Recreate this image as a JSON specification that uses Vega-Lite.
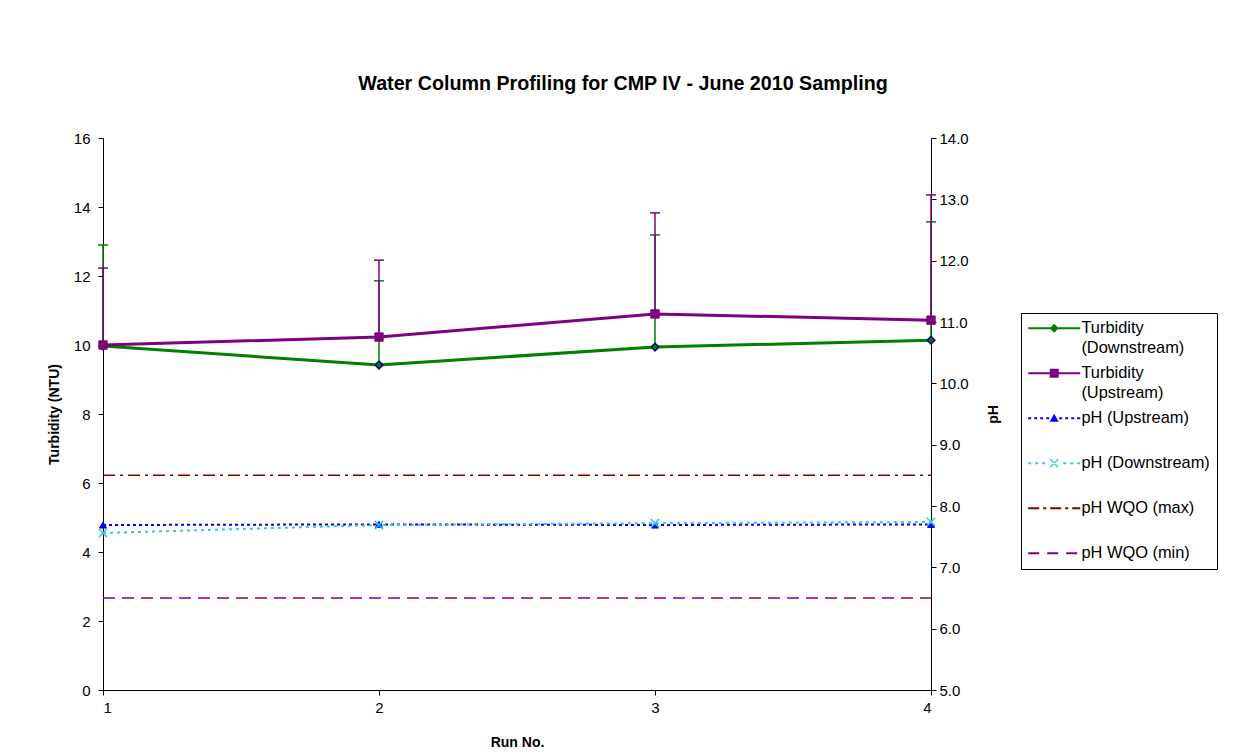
{
  "$schema": "https://vega.github.io/schema/vega-lite/v6.json",
  "autosize": {"type": "none"},
  "padding": {"left": 103, "top": 138, "right": 312, "bottom": 64},
  "width": 828,
  "height": 552,
  "background": "white",
  "title": {
    "text": "Water Column Profiling for CMP IV - June 2010 Sampling",
    "font": "Liberation Sans",
    "fontSize": 19.7,
    "fontWeight": "bold",
    "color": "black",
    "anchor": "middle",
    "dx": 106,
    "offset": 37
  },
  "datasets": {
    "turb": [
      {"run": 1, "series": "Turbidity (Downstream)", "turb": 9.97, "hi": 12.9},
      {"run": 2, "series": "Turbidity (Downstream)", "turb": 9.42, "hi": 11.86},
      {"run": 3, "series": "Turbidity (Downstream)", "turb": 9.94, "hi": 13.19},
      {"run": 4, "series": "Turbidity (Downstream)", "turb": 10.14, "hi": 13.57},
      {"run": 1, "series": "Turbidity (Upstream)", "turb": 10.0, "hi": 12.23},
      {"run": 2, "series": "Turbidity (Upstream)", "turb": 10.23, "hi": 12.46},
      {"run": 3, "series": "Turbidity (Upstream)", "turb": 10.9, "hi": 13.83},
      {"run": 4, "series": "Turbidity (Upstream)", "turb": 10.72, "hi": 14.35}
    ],
    "ph": [
      {"run": 1, "series": "pH (Upstream)", "ph": 7.69},
      {"run": 2, "series": "pH (Upstream)", "ph": 7.7},
      {"run": 3, "series": "pH (Upstream)", "ph": 7.69},
      {"run": 4, "series": "pH (Upstream)", "ph": 7.7},
      {"run": 1, "series": "pH (Downstream)", "ph": 7.56},
      {"run": 2, "series": "pH (Downstream)", "ph": 7.69},
      {"run": 3, "series": "pH (Downstream)", "ph": 7.72},
      {"run": 4, "series": "pH (Downstream)", "ph": 7.74},
      {"run": 1, "series": "pH WQO (max)", "ph": 8.5},
      {"run": 4, "series": "pH WQO (max)", "ph": 8.5},
      {"run": 1, "series": "pH WQO (min)", "ph": 6.5},
      {"run": 4, "series": "pH WQO (min)", "ph": 6.5}
    ]
  },
  "layer": [
    {
      "data": {"name": "turb"},
      "encoding": {
        "x": {
          "field": "run", "type": "quantitative",
          "scale": {"domain": [1, 4], "nice": false, "zero": false},
          "axis": {"values": [1, 2, 3, 4], "format": "d", "title": "Run No.", "labelPadding": 5, "titlePadding": 20}
        },
        "y": {
          "field": "turb", "type": "quantitative",
          "scale": {"domain": [0, 16], "nice": false, "zero": true},
          "axis": {"values": [0, 2, 4, 6, 8, 10, 12, 14, 16], "title": "Turbidity (NTU)", "labelPadding": 8, "titlePadding": 12}
        }
      },
      "layer": [
        {
          "transform": [{"filter": "datum.series == 'Turbidity (Downstream)'"}],
          "mark": {"type": "rule", "color": "#008000", "strokeWidth": 1.5},
          "encoding": {"y2": {"field": "hi"}}
        },
        {
          "transform": [{"filter": "datum.series == 'Turbidity (Downstream)'"}],
          "mark": {"type": "tick", "orient": "horizontal", "color": "#008000", "size": 10, "thickness": 1.5, "opacity": 1},
          "encoding": {"y": {"field": "hi", "type": "quantitative", "title": "Turbidity (NTU)"}}
        },
        {
          "transform": [{"filter": "datum.series == 'Turbidity (Upstream)'"}],
          "mark": {"type": "rule", "color": "#800080", "strokeWidth": 1.5},
          "encoding": {"y2": {"field": "hi"}}
        },
        {
          "transform": [{"filter": "datum.series == 'Turbidity (Upstream)'"}],
          "mark": {"type": "tick", "orient": "horizontal", "color": "#800080", "size": 10, "thickness": 1.5, "opacity": 1},
          "encoding": {"y": {"field": "hi", "type": "quantitative", "title": "Turbidity (NTU)"}}
        },
        {
          "transform": [{"filter": "datum.series == 'Turbidity (Downstream)'"}],
          "mark": {"type": "line", "color": "#008000", "strokeWidth": 3}
        },
        {
          "transform": [{"filter": "datum.series == 'Turbidity (Upstream)'"}],
          "mark": {"type": "line", "color": "#800080", "strokeWidth": 3}
        },
        {
          "transform": [{"filter": "datum.series == 'Turbidity (Downstream)'"}],
          "mark": {"type": "point", "shape": "diamond", "filled": true, "fill": "#008000", "stroke": "#000080", "strokeWidth": 1.5, "size": 60, "opacity": 1}
        },
        {
          "transform": [{"filter": "datum.series == 'Turbidity (Upstream)'"}],
          "mark": {"type": "point", "shape": "square", "filled": true, "fill": "#800080", "stroke": "#800080", "strokeWidth": 1, "size": 70, "opacity": 1}
        },
        {
          "transform": [{"filter": "false"}],
          "mark": {"type": "point", "filled": true, "opacity": 1},
          "encoding": {
            "color": {
              "field": "series", "type": "nominal",
              "scale": {
                "domain": ["Turbidity (Downstream)", "Turbidity (Upstream)", "pH (Upstream)", "pH (Downstream)", "pH WQO (max)", "pH WQO (min)"],
                "range": ["#008000", "#800080", "#0000FF", "#33CCCC", "#800000", "#800080"]
              },
              "legend": {
                "title": null,
                "labelExpr": "datum.label == 'Turbidity (Downstream)' ? ['Turbidity', '(Downstream)'] : datum.label == 'Turbidity (Upstream)' ? ['Turbidity', '(Upstream)'] : datum.label"
              }
            },
            "shape": {
              "field": "series", "type": "nominal",
              "scale": {
                "domain": ["Turbidity (Downstream)", "Turbidity (Upstream)", "pH (Upstream)", "pH (Downstream)", "pH WQO (max)", "pH WQO (min)"],
                "range": [
                  "M-8,-1H44V1H-8Z M18,-4.5L22.5,0L18,4.5L13.5,0Z",
                  "M-8,-1H44V1H-8Z M13.5,-4.5H22.5V4.5H13.5Z",
                  "M-8,-1h3v2h-3Z M-2,-1h3v2h-3Z M4,-1h3v2h-3Z M10,-1h3v2h-3Z M23,-1h3v2h-3Z M29,-1h3v2h-3Z M35,-1h3v2h-3Z M41,-1h3v2h-3Z M18,-4.5L22.5,3.5H13.5Z",
                  "M-8,-1h3v2h-3Z M-1,-1h3v2h-3Z M6,-1h3v2h-3Z M27,-1h3v2h-3Z M34,-1h3v2h-3Z M41,-1h3v2h-3Z M13.5,-3.5L14.5,-4.5L22.5,3.5L21.5,4.5Z M13.5,3.5L14.5,4.5L22.5,-3.5L21.5,-4.5Z",
                  "M-8,-1h11v2h-11Z M7,-1h3v2h-3Z M14,-1h11v2h-11Z M29,-1h3v2h-3Z M36,-1h8v2h-8Z",
                  "M-8,-1h11v2h-11Z M11,-1h11v2h-11Z M30,-1h11v2h-11Z"
                ]
              },
              "legend": {
                "title": null,
                "labelExpr": "datum.label == 'Turbidity (Downstream)' ? ['Turbidity', '(Downstream)'] : datum.label == 'Turbidity (Upstream)' ? ['Turbidity', '(Upstream)'] : datum.label"
              }
            }
          }
        }
      ]
    },
    {
      "data": {"name": "ph"},
      "encoding": {
        "x": {
          "field": "run", "type": "quantitative",
          "scale": {"domain": [1, 4], "nice": false, "zero": false},
          "axis": {"values": [1, 2, 3, 4], "format": "d", "title": "Run No.", "labelPadding": 5, "titlePadding": 20}
        },
        "y": {
          "field": "ph", "type": "quantitative",
          "scale": {"domain": [5, 14], "nice": false, "zero": false},
          "axis": {"orient": "right", "values": [5, 6, 7, 8, 9, 10, 11, 12, 13, 14], "format": ".1f", "title": "pH", "titleAngle": 270, "labelPadding": 3, "titlePadding": 32}
        }
      },
      "layer": [
        {
          "transform": [{"filter": "datum.series == 'pH WQO (min)'"}],
          "mark": {"type": "line", "color": "#800080", "strokeWidth": 1.5, "strokeDash": [12, 7]}
        },
        {
          "transform": [{"filter": "datum.series == 'pH WQO (max)'"}],
          "mark": {"type": "line", "color": "#800000", "strokeWidth": 1.5, "strokeDash": [12, 5, 3, 5]}
        },
        {
          "transform": [{"filter": "datum.series == 'pH (Upstream)'"}],
          "mark": {"type": "line", "color": "#0000FF", "strokeWidth": 2, "strokeDash": [3, 3]}
        },
        {
          "transform": [{"filter": "datum.series == 'pH (Downstream)'"}],
          "mark": {"type": "line", "color": "#33CCCC", "strokeWidth": 2, "strokeDash": [3, 4]}
        },
        {
          "transform": [{"filter": "datum.series == 'pH (Upstream)'"}],
          "mark": {"type": "point", "shape": "triangle-up", "filled": true, "fill": "#0000FF", "stroke": "#0000FF", "strokeWidth": 1, "size": 50, "opacity": 1}
        },
        {
          "transform": [{"filter": "datum.series == 'pH (Downstream)'"}],
          "mark": {"type": "point", "shape": "M-1,-1L1,1M1,-1L-1,1", "filled": false, "stroke": "#33CCCC", "strokeWidth": 1.5, "size": 70, "opacity": 1}
        }
      ]
    }
  ],
  "resolve": {"scale": {"y": "independent"}},
  "config": {
    "font": "Liberation Sans",
    "view": {"stroke": null},
    "axis": {
      "labelFont": "Liberation Sans", "labelFontSize": 15, "labelColor": "black",
      "titleFont": "Liberation Sans", "titleFontSize": 14, "titleFontWeight": "bold", "titleColor": "black",
      "domainColor": "black", "domainWidth": 1, "tickColor": "black", "tickWidth": 1, "tickSize": 5, "grid": false
    },
    "legend": {
      "orient": "none", "legendX": 918, "legendY": 175,
      "labelFont": "Liberation Sans", "labelFontSize": 16.4, "labelColor": "black", "labelLimit": 300,
      "symbolSize": 4, "symbolStrokeWidth": 0, "labelOffset": 37,
      "strokeColor": "black", "fillColor": "white", "padding": 7,
      "rowPadding": 8, "gridAlign": "all"
    },
    "style": {"guide-label": {"lineHeight": 20}}
  }
}
